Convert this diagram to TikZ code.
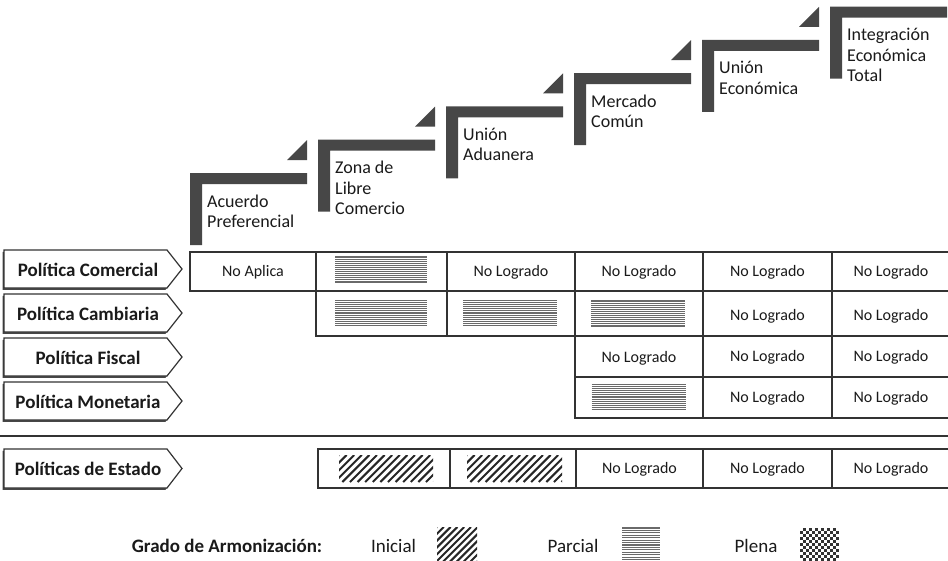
\documentclass[tikz,border=0pt]{standalone}
\usepackage{fontspec}
\setmainfont{Carlito}
\usetikzlibrary{calc}
\definecolor{stepgray}{HTML}{474747}
\definecolor{linec}{HTML}{333333}
\definecolor{stripec}{HTML}{6A6A6A}
\definecolor{txt}{HTML}{1A1A1A}
\tikzset{
  stepbar/.style={fill=stepgray},
  cell/.style={draw=linec, line width=1.4pt},
  celltext/.style={font=\fontsize{16}{18}\selectfont, text=txt, anchor=base, inner sep=0pt},
  labbox/.style={draw=linec, line width=1.2pt, fill=white, line join=miter},
  labshadow/.style={fill=black!72},
  labtext/.style={font=\fontsize{19}{22}\selectfont\bfseries, text=txt, anchor=base, inner sep=0pt},
  steptext/.style={font=\fontsize{18}{20.5}\selectfont, text=txt, anchor=base west, align=left, inner sep=0pt},
  legtext/.style={font=\fontsize{19}{22}\selectfont, text=txt, anchor=base, inner sep=0pt},
  stripe/.style={draw=stripec, line width=1.15pt},
  hatch/.style={draw=black!85, line width=2pt},
}
% parcial pattern: centre x, centre y, width, height, number of stripes
\newcommand{\parcialpat}[5]{%
  \begin{scope}[shift={(#1,#2)}]
    \pgfmathsetmacro\pw{#3/2}\pgfmathsetmacro\ph{#4/2}
    \pgfmathsetmacro\pst{#4/(#5-1)}
    \foreach \i in {1,...,#5}{
      \draw[stripe] (-\pw,-\ph+\pst*\i-\pst) -- (\pw,-\ph+\pst*\i-\pst);
    }
  \end{scope}}
% inicial pattern: centre x, centre y, width, height, spacing
\newcommand{\inicialpat}[5]{%
  \begin{scope}[shift={(#1,#2)}]
    \pgfmathsetmacro\pw{#3/2}\pgfmathsetmacro\ph{#4/2}
    \clip (-\pw,-\ph) rectangle (\pw,\ph);
    \foreach \i in {-6,...,20}{
      \draw[hatch] (-\pw-#4+#5*\i,\ph) -- (-\pw+#5*\i,-\ph);
    }
  \end{scope}}
% plena pattern: left x, top y, columns, rows, cell size
\newcommand{\plenapat}[5]{%
  \begin{scope}[shift={(#1,#2)}]
    \foreach \i in {0,...,#3}{
      \foreach \j in {0,...,#4}{
        \ifodd\numexpr\i+\j\relax
          \fill[black!80] (\i*#5,\j*#5) rectangle (\i*#5+#5,\j*#5+#5);
        \fi
      }
    }
  \end{scope}}
% label arrow: name, top y, bottom y, text
\newcommand{\labarrow}[4]{%
  \pgfmathsetmacro\ym{(#2+#3)/2}
  \fill[labshadow] (2.5,#2+1.8) -- (165.5,#2+1.8) -- (180.5,\ym+1.8) -- (165.5,#3+1.8) -- (2.5,#3+1.8) -- cycle;
  \draw[labbox] (4,#2) -- (167,#2) -- (182,\ym) -- (167,#3) -- (4,#3) -- cycle;
  \node[labtext] (#1) at (88,\ym+7) {#4};}
\begin{document}
\begin{tikzpicture}[x=1pt,y=-1pt]
\useasboundingbox (0,0) rectangle (948,560);
\clip (0,0) rectangle (948,560);
\fill[white] (0,0) rectangle (948,560);

% ---- steps ----
\foreach \k/\nl/\txt/\nm in {0/2/{Acuerdo\\Preferencial}/s1,
                          1/3/{Zona de\\Libre\\Comercio}/s2,
                          2/2/{Unión\\Aduanera}/s3,
                          3/2/{Mercado\\Común}/s4,
                          4/2/{Unión\\Económica}/s5,
                          5/3/{Integración\\Económica\\Total}/s6}{
  \pgfmathsetmacro\xo{190+128*\k}
  \pgfmathsetmacro\yo{173-33.3*\k}
  \fill[stepbar] (\xo,\yo+72) -- (\xo,\yo) -- (\xo+117,\yo) -- (\xo+117,\yo+11)
     -- (\xo+12,\yo+11) -- (\xo+12,\yo+72) -- cycle;
  \ifnum\k<5
    \fill[stepbar] (\xo+97,\yo-13) -- (\xo+117,\yo-13) -- (\xo+117,\yo-33) -- cycle;
  \fi
  \node[steptext] (\nm) at (\xo+17,\yo+34+20.5*\nl-20.5) {\txt};
}

% ---- labels ----
\labarrow{lc}{250}{288}{Política Comercial}
\labarrow{lca}{294}{332}{Política Cambiaria}
\labarrow{lf}{338}{376}{Política Fiscal}
\labarrow{lm}{382}{420}{Política Monetaria}
\labarrow{le}{449}{488}{Políticas de Estado}

% ---- table ----
% row 1
\foreach \a/\b in {190/316,316/447,447/575,575/703,703/832,832/952}{
  \draw[cell] (\a,252) rectangle (\b,291);}
% row 2
\foreach \a/\b in {316/447,447/575,575/703,703/832,832/952}{
  \draw[cell] (\a,291) rectangle (\b,336);}
% rows 3,4
\foreach \a/\b in {575/703,703/832,832/952}{
  \draw[cell] (\a,336) rectangle (\b,377);
  \draw[cell] (\a,377) rectangle (\b,418);}
% estado row
\foreach \a/\b in {318/450,450/576,576/703,703/832,832/952}{
  \draw[cell] (\a,449) rectangle (\b,488);}

% separator
\draw[draw=linec, line width=2.2pt] (0,436) -- (948,436);

% texts row 1
\node[celltext] (c11) at (253,276) {No Aplica};
\parcialpat{381}{269.5}{92}{25}{13}
\node[celltext] (c13) at (511,276) {No Logrado};
\node[celltext] (c14) at (639,276) {No Logrado};
\node[celltext] (c15) at (767.5,276) {No Logrado};
\node[celltext] (c16) at (891,276) {No Logrado};
% row 2
\parcialpat{381}{313}{92}{25}{13}
\parcialpat{510}{313}{94}{25}{13}
\parcialpat{638}{313.5}{94}{25}{13}
\node[celltext] (c25) at (767.5,320) {No Logrado};
\node[celltext] (c26) at (891,320) {No Logrado};
% row 3
\node[celltext] (c34) at (639,362) {No Logrado};
\node[celltext] (c35) at (767.5,361) {No Logrado};
\node[celltext] (c36) at (891,361) {No Logrado};
% row 4
\parcialpat{638.5}{397}{94}{25}{13}
\node[celltext] (c45) at (767.5,402) {No Logrado};
\node[celltext] (c46) at (891,402) {No Logrado};
% estado
\inicialpat{386}{468.5}{94}{27}{7.6}
\inicialpat{514.5}{468.5}{95}{27}{7.6}
\node[celltext] (e4) at (639.5,473.5) {No Logrado};
\node[celltext] (e5) at (767.5,473.5) {No Logrado};
\node[celltext] (e6) at (891,473.5) {No Logrado};

% ---- legend ----
\node[legtext, font=\fontsize{19}{22}\selectfont\bfseries] (lg) at (227,552) {Grado de Armonización:};
\node[legtext] (li) at (393.5,552) {Inicial};
\inicialpat{457}{545}{40}{36}{6.8}
\node[legtext] (lp) at (573,552) {Parcial};
\parcialpat{641}{545}{38}{34}{15}
\node[legtext] (lpl) at (756,552) {Plena};
\plenapat{800}{528}{12}{11}{3}
\end{tikzpicture}
\end{document}
